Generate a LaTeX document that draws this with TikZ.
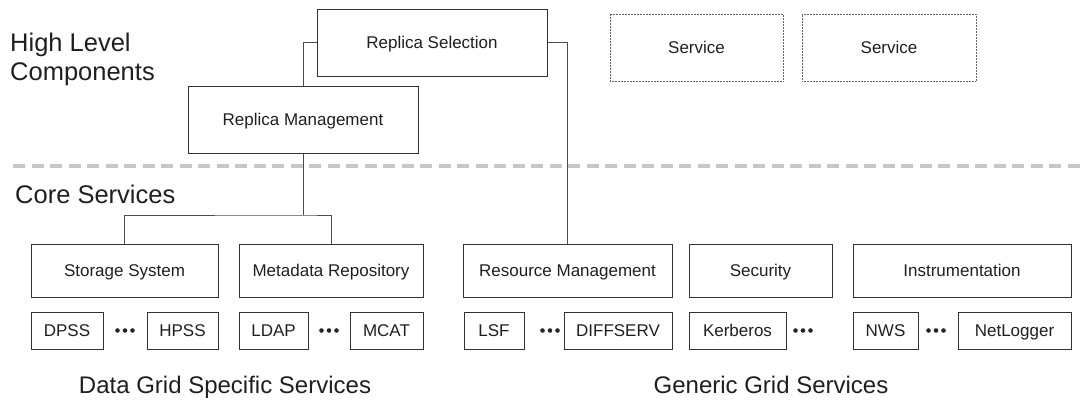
\documentclass[tikz,border=0pt]{standalone}
\usepackage{fontspec}
\setmainfont{Liberation Sans}
\begin{document}
\begin{tikzpicture}[x=1pt,y=-1pt,
  box/.style={draw=black!80, line width=1pt, inner sep=0pt, text=black!88,
    font=\fontsize{17}{20}\selectfont, text height=12.2pt, text depth=0pt},
  bigbox/.style={box, minimum height=67pt},
  midbox/.style={box, minimum height=53pt},
  smallbox/.style={box, minimum height=37pt},
  svcbox/.style={box, draw=black!60, dash pattern=on 1pt off 0.5pt, minimum height=67pt, minimum width=173pt},
  biglabel/.style={inner sep=0pt, text=black!88, font=\fontsize{24}{29}\selectfont},
  sidelabel/.style={inner sep=0pt, text=black!88, font=\fontsize{25.5}{29}\selectfont},
  conn/.style={draw=black!70, line width=1pt},
  sep/.style={draw=black!22, line width=4pt, dash pattern=on 12pt off 6.5pt},
  dot/.style={fill=black!85, draw=none}
]
\useasboundingbox (0,0) rectangle (1086,400);

% separator
\coordinate (sepL) at (13,166);
\coordinate (sepR) at (1086,166);
\draw[sep] (sepL) -- (sepR);

% labels
\node[sidelabel, anchor=base west] (hl1) at (10,51) {High Level};
\node[sidelabel, anchor=base west] (hl2) at (10,80) {Components};
\node[sidelabel, anchor=base west] (core) at (15,203) {Core Services};
\node[biglabel, anchor=base] (dgss) at (225,393) {Data Grid Specific Services};
\node[biglabel, anchor=base] (ggs) at (771,393) {Generic Grid Services};

% high level
\node[bigbox, minimum width=230pt] (RS) at (432,42.5) {Replica Selection};
\node[bigbox, minimum width=230pt] (RM) at (303,119.5) {Replica Management};
\node[svcbox] (S1) at (696.5,47.5) {Service};
\node[svcbox, minimum width=174pt] (S2) at (889,47.5) {Service};

% core services
\node[midbox, minimum width=187pt] (SS) at (124.5,270.5) {Storage System};
\node[midbox, minimum width=184pt] (MR) at (331,270.5) {Metadata Repository};
\node[midbox, minimum width=209pt] (RST) at (567.5,270.5) {Resource Management};
\node[midbox, minimum width=143pt] (SEC) at (760.5,270.5) {Security};
\node[midbox, minimum width=218pt] (INS) at (962,270.5) {Instrumentation};

% small boxes
\node[smallbox, minimum width=72pt] (DPSS) at (67,330.5) {DPSS};
\node[smallbox, minimum width=71pt] (HPSS) at (182.5,330.5) {HPSS};
\node[smallbox, minimum width=69pt] (LDAP) at (273.5,330.5) {LDAP};
\node[smallbox, minimum width=73pt] (MCAT) at (386.5,330.5) {MCAT};
\node[smallbox, minimum width=60pt] (LSF) at (494,330.5) {LSF};
\node[smallbox, minimum width=108pt] (DIFF) at (618,330.5) {DIFFSERV};
\node[smallbox, minimum width=97pt] (KERB) at (737.5,330.5) {Kerberos};
\node[smallbox, minimum width=65pt] (NWS) at (885.5,330.5) {NWS};
\node[smallbox, minimum width=113pt] (NETL) at (1014.5,330.5) {NetLogger};

% ellipsis dots
\foreach \cx in {125,329,550,803,936}{
  \foreach \dx in {-7.5,0,7.5}{
    \fill[dot] (\cx+\dx,330.5) circle (2.3pt);
  }
}

% connectors
\coordinate (j) at (303,215);
\draw[conn] (RS.west) -| (RM.north);
\draw[conn] (RS.east) -| (RST.north);
\draw[conn] (RM.south) -- (j);
\draw[conn] (SS.north) |- (j) -| (MR.north);
\end{tikzpicture}
\end{document}
